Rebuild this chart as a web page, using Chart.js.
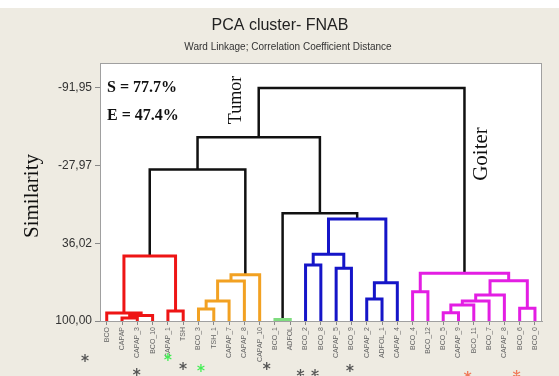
<!DOCTYPE html>
<html>
<head>
<meta charset="utf-8">
<script src="https://cdn.jsdelivr.net/npm/chart.js@4"></script>
<style>
    html, body { margin: 0; padding: 0; background: #eeebe2; }
    #wrap { width: 559px; height: 376px; }
</style>
</head>
<body>
<div id="wrap"><canvas id="dendro" width="559" height="376"></canvas></div>
<script>
// leaves, left to right
const leaves = ['BCO', 'CAPAP', 'CAPAP_3', 'BCO_10', 'CAPAP_1', 'TSH', 'BCO_3', 'TSH_1', 'CAPAP_7', 'CAPAP_8',
    'CAPAP_10', 'BCO_1', 'ADFOL', 'BCO_2', 'BCO_8', 'CAPAP_5', 'BCO_9', 'CAPAP_2', 'ADFOL_1', 'CAPAP_4',
    'BCO_4', 'BCO_12', 'BCO_5', 'CAPAP_9', 'BCO_11', 'BCO_7', 'CAPAP_8', 'BCO_6', 'BCO_0'];

// merges: node ids 0..28 are leaves, merge k becomes node 29 + k
const mergeA   = [1, 29, 0, 4, 31,   6, 34, 35, 36,  11,  13, 15, 39, 17, 42, 41,  38,  20, 22, 47, 48, 49, 27, 50, 46,  33, 54, 55];
const mergeB   = [2, 3, 30, 5, 32,   7, 8, 9, 10,    12,  14, 16, 40, 18, 19, 43,  44,  21, 23, 24, 25, 26, 28, 51, 52,  37, 45, 53];
const mergeSim = [97.5, 95.5, 93.4, 91.8, 46.5,   90.1, 83.5, 67.0, 61.9,   98.8,
    53.9, 56.6, 45.1, 81.9, 68.4, 16.0,   11.3,
    75.9, 93.2, 86.8, 83.5, 78.6, 89.5, 66.8, 60.7,   -24.8, -51.3, -91.95];
const mergeGroup = [1, 1, 1, 1, 1,   2, 2, 2, 2,   3,   4, 4, 4, 4, 4, 4,   0,   5, 5, 5, 5, 5, 5, 5, 5,   0, 0, 0];

const yTicks = [-91.95, -27.97, 36.02, 100.00];

// asterisks under the leaves (x in leaf units, rows in px below the axis)
const starLeaf = [-1.42, 1.96, 4.0, 4.99, 6.16, 10.46, 12.67, 13.62, 15.9, 23.6, 26.8];
const starDrop = [37, 51, 36, 45, 47, 45, 52, 52, 47, 54, 53];
const starKind = [0, 0, 1, 0, 1, 0, 0, 0, 0, 2, 2];

const palette = ['#111111', '#ee1515', '#f2a122', '#7fdc7f', '#1515c8', '#e31ee3'];
const starColors = ['#555555', '#44ee55', '#f07a5a'];

const nodeX = leaves.map((_, i) => i);
const nodeY = leaves.map(() => 100);
mergeA.forEach((a, k) => {
    nodeX.push((nodeX[a] + nodeX[mergeB[k]]) / 2);
    nodeY.push(mergeSim[k]);
});

const datasets = mergeA.map((a, k) => {
    const b = mergeB[k];
    const h = mergeSim[k];
    const g = mergeGroup[k];
    return {
        data: [
            { x: nodeX[a], y: nodeY[a] },
            { x: nodeX[a], y: h },
            { x: nodeX[b], y: h },
            { x: nodeX[b], y: nodeY[b] }
        ],
        showLine: true,
        borderColor: palette[g],
        borderWidth: g === 0 ? 2.5 : 3,
        pointRadius: 0,
        fill: false,
        tension: 0,
        borderCapStyle: 'butt',
        borderJoinStyle: 'miter',
        order: g === 0 ? 1 : 0
    };
});

function drawStar(ctx, x, y, r) {
    ctx.beginPath();
    for (let i = 0; i < 3; i++) {
        const ang = Math.PI / 2 + i * Math.PI / 3;
        ctx.moveTo(x - r * Math.cos(ang), y - r * Math.sin(ang));
        ctx.lineTo(x + r * Math.cos(ang), y + r * Math.sin(ang));
    }
    ctx.stroke();
}

function vText(ctx, txt, x, y) {
    ctx.save();
    ctx.translate(x, y);
    ctx.rotate(-Math.PI / 2);
    ctx.fillText(txt, 0, 0);
    ctx.restore();
}

const decor = {
    id: 'decor',
    beforeDraw(chart) {
        const { ctx, chartArea: ca } = chart;
        ctx.save();
        ctx.fillStyle = '#eeebe2';
        ctx.fillRect(0, 0, chart.width, chart.height);
        ctx.fillStyle = '#ffffff';
        ctx.fillRect(0, 0, chart.width, 8);
        ctx.fillRect(ca.left, ca.top, ca.right - ca.left, ca.bottom - ca.top);
        ctx.restore();
    },
    afterDraw(chart) {
        const { ctx, chartArea: ca } = chart;
        const xs = chart.scales.x;
        ctx.save();
        ctx.strokeStyle = '#a0a0a0';
        ctx.lineWidth = 1;
        ctx.strokeRect(ca.left + 0.5, ca.top + 0.5, ca.right - ca.left - 1, ca.bottom - ca.top);

        ctx.fillStyle = '#222';
        ctx.textAlign = 'center';
        ctx.textBaseline = 'middle';
        ctx.font = '16px "Liberation Sans", Arial, sans-serif';
        ctx.fillText('PCA cluster- FNAB', 280, 26);
        ctx.font = '10px "Liberation Sans", Arial, sans-serif';
        ctx.fillStyle = '#333';
        ctx.fillText('Ward Linkage; Correlation Coefficient Distance', 288, 47);

        ctx.fillStyle = '#111';
        ctx.textAlign = 'left';
        ctx.textBaseline = 'alphabetic';
        ctx.font = 'bold 16px "Liberation Serif", "Times New Roman", serif';
        ctx.fillText('S = 77.7%', 107, 92);
        ctx.fillText('E = 47.4%', 107, 120);

        ctx.textAlign = 'center';
        ctx.textBaseline = 'middle';
        ctx.font = '18px "Liberation Serif", "Times New Roman", serif';
        vText(ctx, 'Tumor', 236, 100);
        ctx.font = '21px "Liberation Serif", "Times New Roman", serif';
        vText(ctx, 'Goiter', 481, 154);
        vText(ctx, 'Similarity', 32, 196);

        ctx.lineWidth = 1.3;
        starLeaf.forEach((v, i) => {
            ctx.strokeStyle = starColors[starKind[i]];
            drawStar(ctx, xs.getPixelForValue(v), ca.bottom + starDrop[i], 4);
        });
        ctx.restore();
    }
};

new Chart(document.getElementById('dendro').getContext('2d'), {
    type: 'scatter',
    data: { datasets: datasets },
    options: {
        responsive: false,
        animation: false,
        layout: { padding: { top: 63, right: 17, left: 0, bottom: 0 } },
        plugins: {
            legend: { display: false },
            tooltip: { enabled: false }
        },
        scales: {
            x: {
                type: 'linear',
                min: -0.44,
                max: 28.46,
                afterBuildTicks: s => { s.ticks = leaves.map((_, i) => ({ value: i })); },
                afterFit: s => { s.height = 55; },
                ticks: {
                    autoSkip: false,
                    maxRotation: 90,
                    minRotation: 90,
                    padding: 2,
                    color: '#666',
                    font: { size: 7, family: '"Liberation Sans", Arial, sans-serif' },
                    callback: (v, i) => leaves[i]
                },
                grid: { drawOnChartArea: false, tickLength: 4, color: '#888' },
                border: { color: '#a0a0a0' }
            },
            y: {
                type: 'linear',
                reverse: true,
                min: -112.5,
                max: 100,
                afterBuildTicks: s => { s.ticks = yTicks.map(v => ({ value: v })); },
                afterFit: s => { s.width = 100; },
                ticks: {
                    padding: 3,
                    color: '#333',
                    font: { size: 12, family: '"Liberation Sans", Arial, sans-serif' },
                    callback: v => v.toFixed(2).replace('.', ',')
                },
                grid: { drawOnChartArea: false, tickLength: 5, color: '#888' },
                border: { color: '#a0a0a0' }
            }
        }
    },
    plugins: [decor]
});
</script>
</body>
</html>
